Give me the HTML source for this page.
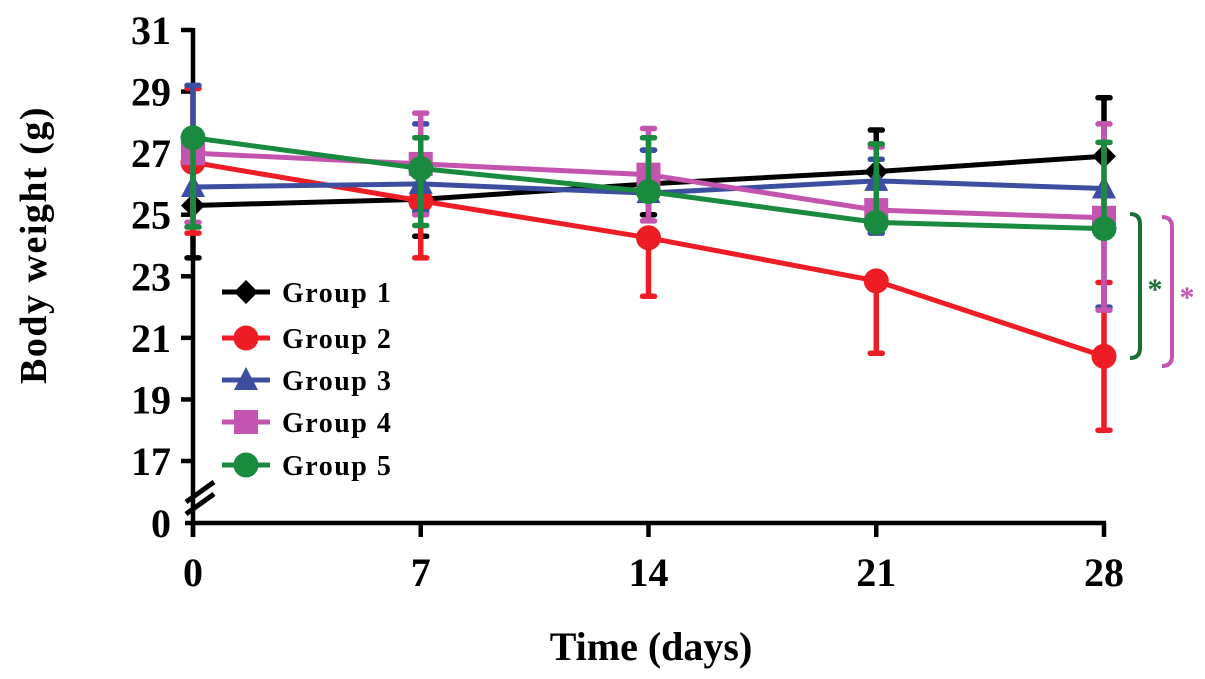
<!DOCTYPE html>
<html><head><meta charset="utf-8"><style>
body{margin:0;background:#fff;}
svg{display:block;font-family:"Liberation Serif",serif;font-weight:bold;}
</style></head><body>
<svg id="chart" width="1205" height="679" viewBox="0 0 1205 679"></svg>
<script>
const days=[0,7,14,21,28];
const yTicks=[17,19,21,23,25,27,29,31];
const groupNames=['Group 1','Group 2','Group 3','Group 4','Group 5'];
const g1=[25.3,25.5,26.0,26.4,26.9];
const g1Up=[0,0,1.1,1.35,1.9];
const g1Down=[1.7,1.2,1.0,0,0];
const g2=[26.7,25.45,24.25,22.85,20.4];
const g2Up=[2.4,0,0,0,2.4];
const g2Down=[2.3,1.85,1.9,2.35,2.4];
const g3=[25.9,26.0,25.7,26.1,25.85];
const g3Up=[3.3,1.95,1.4,0.7,0];
const g3Down=[0,0.9,0,1.7,3.85];
const g4=[27.0,26.65,26.3,25.15,24.9];
const g4Up=[0,1.65,1.5,2.05,3.05];
const g4Down=[2.25,1.65,1.5,0,3.0];
const g5=[27.5,26.5,25.75,24.75,24.55];
const g5Up=[0,1.0,1.75,2.55,2.8];
const g5Down=[2.9,1.85,0,0,0];
const series=[[g1,g1Up,g1Down],[g2,g2Up,g2Down],[g3,g3Up,g3Down],[g4,g4Up,g4Down],[g5,g5Up,g5Down]];
const colors=['#000000','#ee1c24','#3b4ea0','#c355b0','#1a8a3e'];
const markers=['diamond','circle','triangle','square','circle'];
const svg=document.getElementById('chart');
const NS='http://www.w3.org/2000/svg';
const X=d=>193+(d-0)*(1104-193)/28;
const Y=v=>461-(v-17)*(461-30)/14;
function mk(tag,attrs,parent){const e=document.createElementNS(NS,tag);for(const k in attrs)e.setAttribute(k,attrs[k]);(parent||svg).appendChild(e);return e;}
function marker(type,x,y,c,g){
  if(type==='circle')return mk('circle',{cx:x,cy:y,r:12.5,fill:c},g);
  if(type==='square')return mk('rect',{x:x-12,y:y-12,width:24,height:24,fill:c},g);
  if(type==='diamond')return mk('polygon',{points:`${x},${y-12} ${x+12},${y} ${x},${y+12} ${x-12},${y}`,fill:c},g);
  return mk('polygon',{points:`${x},${y-13} ${x+12},${y+10} ${x-12},${y+10}`,fill:c},g);
}
const ax=mk('g',{});


mk('line',{x1:193,y1:28,x2:193,y2:537,stroke:'#000','stroke-width':4.5},ax);
mk('line',{x1:185,y1:523,x2:1106,y2:523,stroke:'#000','stroke-width':4.5},ax);
mk('line',{x1:186,y1:502,x2:214,y2:482,stroke:'#000','stroke-width':5},ax);
mk('line',{x1:186,y1:514,x2:214,y2:494,stroke:'#000','stroke-width':5},ax);
yTicks.forEach(v=>{
  mk('line',{x1:181,y1:Y(v),x2:193,y2:Y(v),stroke:'#000','stroke-width':4.5},ax);
  const t=mk('text',{x:171,y:Y(v)+14,'text-anchor':'end','font-size':40},ax);t.textContent=v;
  
  
});
const t0=mk('text',{x:171,y:537,'text-anchor':'end','font-size':40},ax);t0.textContent='0';
days.forEach(d=>{
  mk('line',{x1:X(d),y1:523,x2:X(d),y2:537,stroke:'#000','stroke-width':4.5},ax);
  const t=mk('text',{x:X(d),y:586,'text-anchor':'middle','font-size':40},ax);t.textContent=d;
  
  
});
const xt=mk('text',{x:651,y:660,'text-anchor':'middle','font-size':40});xt.textContent='Time (days)';


const yt=mk('text',{x:0,y:0,'text-anchor':'middle','font-size':38,'letter-spacing':1.5,transform:'translate(46,245) rotate(-90)'});yt.textContent='Body weight (g)';


function cap(x,y,c,g){mk('line',{x1:x-6,y1:y,x2:x+6,y2:y,stroke:c,'stroke-width':5.5,'stroke-linecap':'round'},g);}
series.forEach((s,i)=>{
  const g=mk('g',{});
  
  
  const c=colors[i];
  s[0].forEach((v,j)=>{
    const x=X(days[j]);
    const yu=Y(v+s[1][j]), yd=Y(v-s[2][j]);
    mk('line',{x1:x,y1:yd,x2:x,y2:yu,stroke:c,'stroke-width':5.5},g);
    if(s[1][j]>0)cap(x,yu,c,g);
    if(s[2][j]>0)cap(x,yd,c,g);
  });
  mk('polyline',{points:s[0].map((v,j)=>X(days[j])+','+Y(v)).join(' '),fill:'none',stroke:c,'stroke-width':5}, g);
  s[0].forEach((v,j)=>{
    const m=marker(markers[i],X(days[j]),Y(v),c,g);
    
    
  });
});
const legY=[292,338,380,422,465];
groupNames.forEach((n,i)=>{
  const g=mk('g',{});
  
  
  mk('line',{x1:222,y1:legY[i],x2:270,y2:legY[i],stroke:colors[i],'stroke-width':5},g);
  marker(markers[i],246,legY[i],colors[i],g);
  const t=mk('text',{x:282,y:legY[i]+10,'font-size':28,'letter-spacing':1.5},g);t.textContent=n;
});
const b1=mk('path',{d:'M1130,214 Q1140,214 1140,224 L1140,348 Q1140,358 1130,358',fill:'none',stroke:'#1a6e36','stroke-width':4});


const b2=mk('path',{d:'M1162,217 Q1172,217 1172,227 L1172,356 Q1172,366 1162,366',fill:'none',stroke:'#c355b0','stroke-width':4});


const s1=mk('text',{x:1155,y:299,'text-anchor':'middle','font-size':30,fill:'#1a6e36'});s1.textContent='*';


const s2=mk('text',{x:1187,y:307,'text-anchor':'middle','font-size':30,fill:'#c355b0'});s2.textContent='*';


</script>
</body></html>
